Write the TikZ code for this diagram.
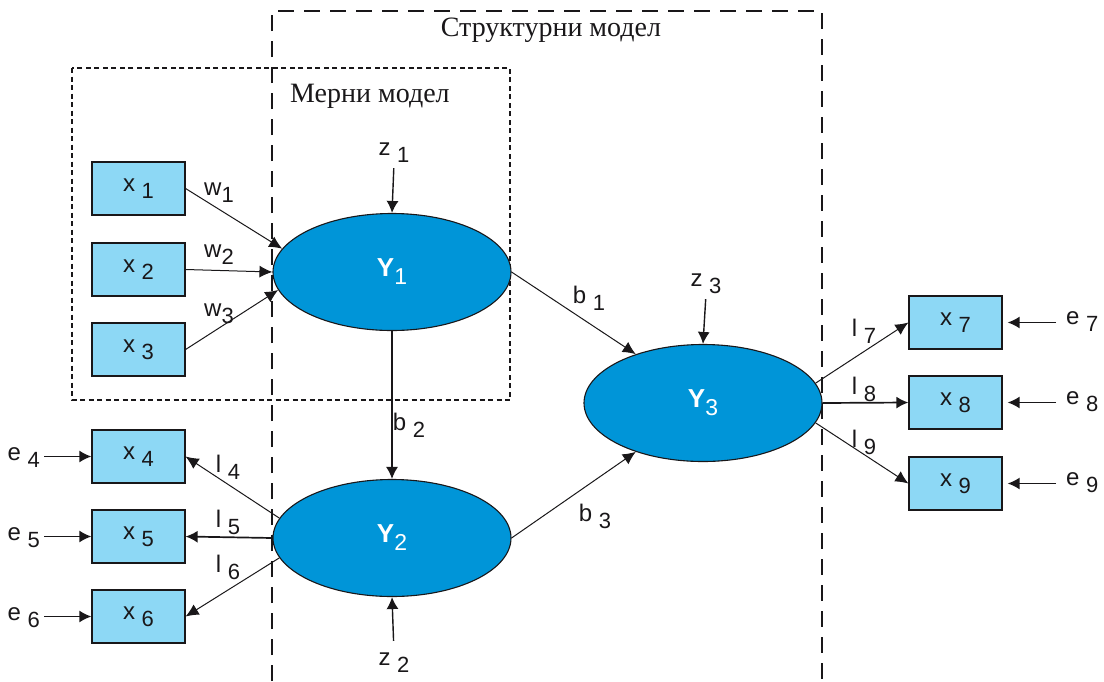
\documentclass[tikz,border=0pt]{standalone}
\usepackage{fontspec}
\setmainfont{Liberation Serif}
\newfontfamily\labfont{Liberation Sans}
\usetikzlibrary{arrows.meta,shapes.geometric}
\definecolor{boxblue}{RGB}{141,216,245}
\definecolor{ellblue}{RGB}{0,149,216}
\definecolor{ink}{RGB}{25,23,25}
\newcommand\digit[1]{\raisebox{-7pt}{\fontsize{22}{22}\selectfont #1}}
\newcommand\lbl[2]{#1 \digit{#2}}
\newcommand\lbt[2]{#1\digit{#2}}
\newcommand\ylab[1]{\textbf{Y}\raisebox{-8pt}{\fontsize{23}{23}\selectfont #1}}
\begin{document}
\begin{tikzpicture}[x=1pt,y=-1pt,
  obs/.style={draw=ink, line width=1.2pt, fill=boxblue, minimum width=93pt, minimum height=53pt, inner sep=0pt, text=ink, font=\labfont\fontsize{24}{24}\selectfont},
  lat/.style={ellipse, draw=ink, line width=1.1pt, fill=ellblue, minimum width=238pt, minimum height=117pt, inner sep=0pt, text=white, font=\labfont\fontsize{26}{26}\selectfont},
  txt/.style={font=\labfont\fontsize{24}{24}\selectfont, text=ink, inner sep=0pt},
  ttl/.style={font=\fontsize{28}{28}\selectfont, text=ink, inner sep=0pt},
  thinarr/.style={draw=ink, line width=1pt, -{Latex[length=13pt,width=12pt]}},
  thickarr/.style={draw=ink, line width=1.7pt, -{Latex[length=12pt,width=12pt]}},
  structbox/.style={draw=ink, line width=1.7pt, dash pattern=on 16pt off 10pt},
  measbox/.style={draw=ink, line width=1.4pt, dash pattern=on 5pt off 3.5pt}
]
\useasboundingbox (0,0) rectangle (1104,681);

% frames
\draw[structbox] (272,681) -- (272,11) -- (822,11) -- (822,681);
\draw[measbox] (72,68) rectangle (510,400);
\node[ttl] (tstruct) at (551,30) {Структурни модел};
\node[ttl, anchor=west] (tmeas) at (290,96) {Мерни модел};

% latent variables
\node[lat] (Y1) at (392,272) {\ylab{1}};
\node[lat] (Y2) at (392,538) {\ylab{2}};
\node[lat] (Y3) at (703,403) {\ylab{3}};

% observed variables
\node[obs] (x1) at (138.5,188.5) {\lbl{x}{1}};
\node[obs] (x2) at (138.5,269.5) {\lbl{x}{2}};
\node[obs] (x3) at (138.5,349.5) {\lbl{x}{3}};
\node[obs] (x4) at (138.5,456.5) {\lbl{x}{4}};
\node[obs] (x5) at (138.5,536.5) {\lbl{x}{5}};
\node[obs] (x6) at (138.5,616.5) {\lbl{x}{6}};
\node[obs] (x7) at (955.5,322.5) {\lbl{x}{7}};
\node[obs] (x8) at (955.5,402.5) {\lbl{x}{8}};
\node[obs] (x9) at (955.5,483.5) {\lbl{x}{9}};

% error / disturbance labels
\node[txt] (z1) at (394,153) {\lbl{z}{1}};
\node[txt] (z2) at (394,663) {\lbl{z}{2}};
\node[txt] (z3) at (706,284) {\lbl{z}{3}};
\node[txt, anchor=east] (e4) at (40,458) {\lbl{e}{4}};
\node[txt, anchor=east] (e5) at (40,538) {\lbl{e}{5}};
\node[txt, anchor=east] (e6) at (40,618) {\lbl{e}{6}};
\node[txt, anchor=west] (e7) at (1066,322) {\lbl{e}{7}};
\node[txt, anchor=west] (e8) at (1066,402) {\lbl{e}{8}};
\node[txt, anchor=west] (e9) at (1066,483) {\lbl{e}{9}};

% path labels
\node[txt] (w1) at (219,193) {\lbt{w}{1}};
\node[txt] (w2) at (219,255) {\lbt{w}{2}};
\node[txt] (w3) at (219,314) {\lbt{w}{3}};
\node[txt] (b1) at (589,298) {\lbl{b}{1}};
\node[txt] (b2) at (409,425) {\lbl{b}{2}};
\node[txt] (b3) at (595,516) {\lbl{b}{3}};
\node[txt] (l4) at (228,467) {\lbl{l}{4}};
\node[txt] (l5) at (228,522) {\lbl{l}{5}};
\node[txt] (l6) at (228,567) {\lbl{l}{6}};
\node[txt] (l7) at (864,331) {\lbl{l}{7}};
\node[txt] (l8) at (864,389) {\lbl{l}{8}};
\node[txt] (l9) at (864,442) {\lbl{l}{9}};

% formative indicators
\draw[thinarr] (x1.east) -- (Y1.168);
\draw[thinarr] (x2.east) -- (Y1.west);
\draw[thinarr] (x3.east) -- (Y1.189);

% structural paths
\draw[thinarr] (Y1.east) -- (Y3.144);
\draw[thickarr, line width=1.4pt] (Y1.south) -- (Y2.north);
\draw[thinarr] (Y2.east) -- (Y3.216);

% reflective indicators
\draw[thinarr] (Y2.170) -- (x4.east);
\draw[thickarr] (Y2.west) -- (x5.east);
\draw[thinarr] (Y2.190) -- (x6.east);
\draw[thinarr] (Y3.10) -- (x7.west);
\draw[thickarr] (Y3.east) -- (x8.west);
\draw[thinarr] (Y3.350) -- (x9.west);

% disturbances
\draw[thickarr, line width=1.4pt, shorten <=5pt] (z1.south) -- (Y1.north);
\draw[thickarr, line width=1.4pt, shorten <=12pt] (z2.north) -- (Y2.south);
\draw[thickarr, line width=1.4pt, shorten <=5pt] (z3.south) -- (Y3.north);

% errors
\draw[thickarr, shorten <=4pt] (e4.east |- x4.west) -- (x4.west);
\draw[thickarr, shorten <=4pt] (e5.east |- x5.west) -- (x5.west);
\draw[thickarr, shorten <=4pt] (e6.east |- x6.west) -- (x6.west);
\draw[thickarr, shorten <=10pt, shorten >=5pt] (e7.west |- x7.east) -- (x7.east);
\draw[thickarr, shorten <=10pt, shorten >=5pt] (e8.west |- x8.east) -- (x8.east);
\draw[thickarr, shorten <=10pt, shorten >=5pt] (e9.west |- x9.east) -- (x9.east);
\end{tikzpicture}
\end{document}
